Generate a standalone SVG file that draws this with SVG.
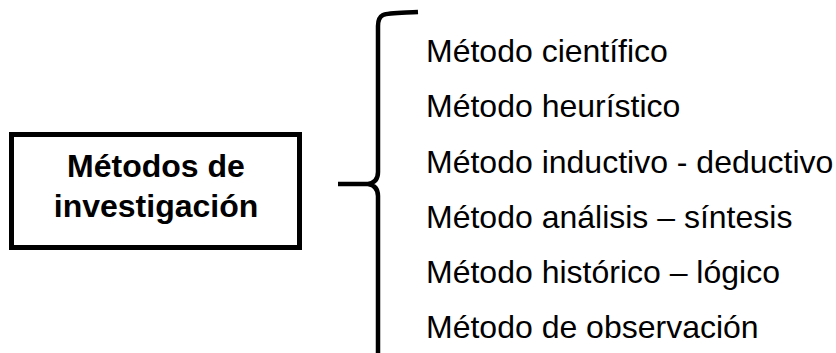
<svg xmlns="http://www.w3.org/2000/svg" width="836" height="353" viewBox="0 0 836 353">
<style>
.t{font-family:"Liberation Sans",Arial,sans-serif;font-size:32px;fill:#000}
.b{font-weight:bold;text-anchor:middle}
</style>
<rect width="836" height="353" fill="#fff"/>
<g id="node-main">
<rect x="11.5" y="134.5" width="288" height="113" fill="#fff" stroke="#000" stroke-width="5"/>
<text class="t b" x="156" y="177">Métodos de</text>
<text class="t b" x="156" y="217">investigación</text>
</g>
<g id="connectors">
<path d="M418,12 C400,13 388,13 383,15 C379,17 378,20 378,26 L378,172 C378,180 374,183 368,184 L338,184 M368,184 C374,185 378,188 378,196 L378,353" fill="none" stroke="#000" stroke-width="4.5"/>
</g>
<g id="node-items">
<text class="t" x="426" y="62">Método científico</text>
<text class="t" x="426" y="117">Método heurístico</text>
<text class="t" x="426" y="173">Método inductivo - deductivo</text>
<text class="t" x="426" y="228">Método análisis – síntesis</text>
<text class="t" x="426" y="283">Método histórico – lógico</text>
<text class="t" x="426" y="338">Método de observación</text>
</g>
</svg>
